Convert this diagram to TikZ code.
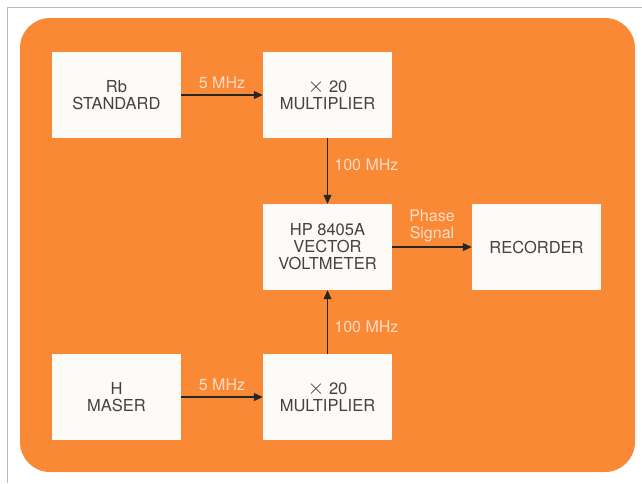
\documentclass[tikz,border=0pt]{standalone}
\usepackage{fontspec}
\setmainfont{TeX Gyre Heros}
\usetikzlibrary{arrows.meta, positioning}
\definecolor{mOrange}{HTML}{FA8936}
\definecolor{mPaper}{HTML}{FCFBF8}
\definecolor{mInk}{HTML}{45413F}
\definecolor{mLabel}{HTML}{FFDCC6}
\definecolor{mFrame}{HTML}{B8B8B4}
\newcommand{\bigtimes}{\scalebox{1.25}{$\times$}}

\begin{document}
\begin{tikzpicture}[x=1pt, y=-1pt,
      bx/.style={fill=mPaper, text=mInk, minimum width=129pt, minimum height=86pt,
        align=center, inner sep=0pt, font=\fontsize{16.5}{17}\selectfont},
      lbl/.style={text=mLabel, align=center, font=\fontsize{16}{17}\selectfont},
      sig/.style={draw=black!85, line width=1.1pt, -{Triangle[length=9pt, width=8pt]}}]
    \useasboundingbox (0,0) rectangle (642,483);
    % page and panel
    \fill[white] (0,0) rectangle (642,483);
    \draw[mFrame, line width=0.8pt] (7,483) -- (7,7) -- (642,7);
    \fill[mOrange, rounded corners=30pt] (20,18) rectangle (635,472);
    % reference chain
    \node[bx] (rb)    at (116.5,95)  {Rb\\STANDARD};
    \node[bx] (multa) at (327.5,95)  {\bigtimes\ 20\\MULTIPLIER};
    % maser chain
    \node[bx] (maser) at (116.5,397) {H\\MASER};
    \node[bx] (multb) at (327.5,397) {\bigtimes\ 20\\MULTIPLIER};
    % comparison
    \node[bx] (vvm)   at (327.5,247) {HP 8405A\\VECTOR\\VOLTMETER};
    \node[bx] (rec)   at (536.5,247) {RECORDER};
    % signals
    \draw[sig] (rb) -- node[lbl, above=2pt] {5 MHz} (multa);
    \draw[sig] (maser) -- node[lbl, above=2pt] {5 MHz} (multb);
    \draw[sig] (multa) -- node[lbl, right=3pt, yshift=6pt] {100 MHz} (vvm);
    \draw[sig] (multb) -- node[lbl, right=3pt, yshift=-5pt] {100 MHz} (vvm);
    \draw[sig] (vvm) -- node[lbl, above=1pt] {Phase\\Signal} (rec);
  \end{tikzpicture}
\end{document}
